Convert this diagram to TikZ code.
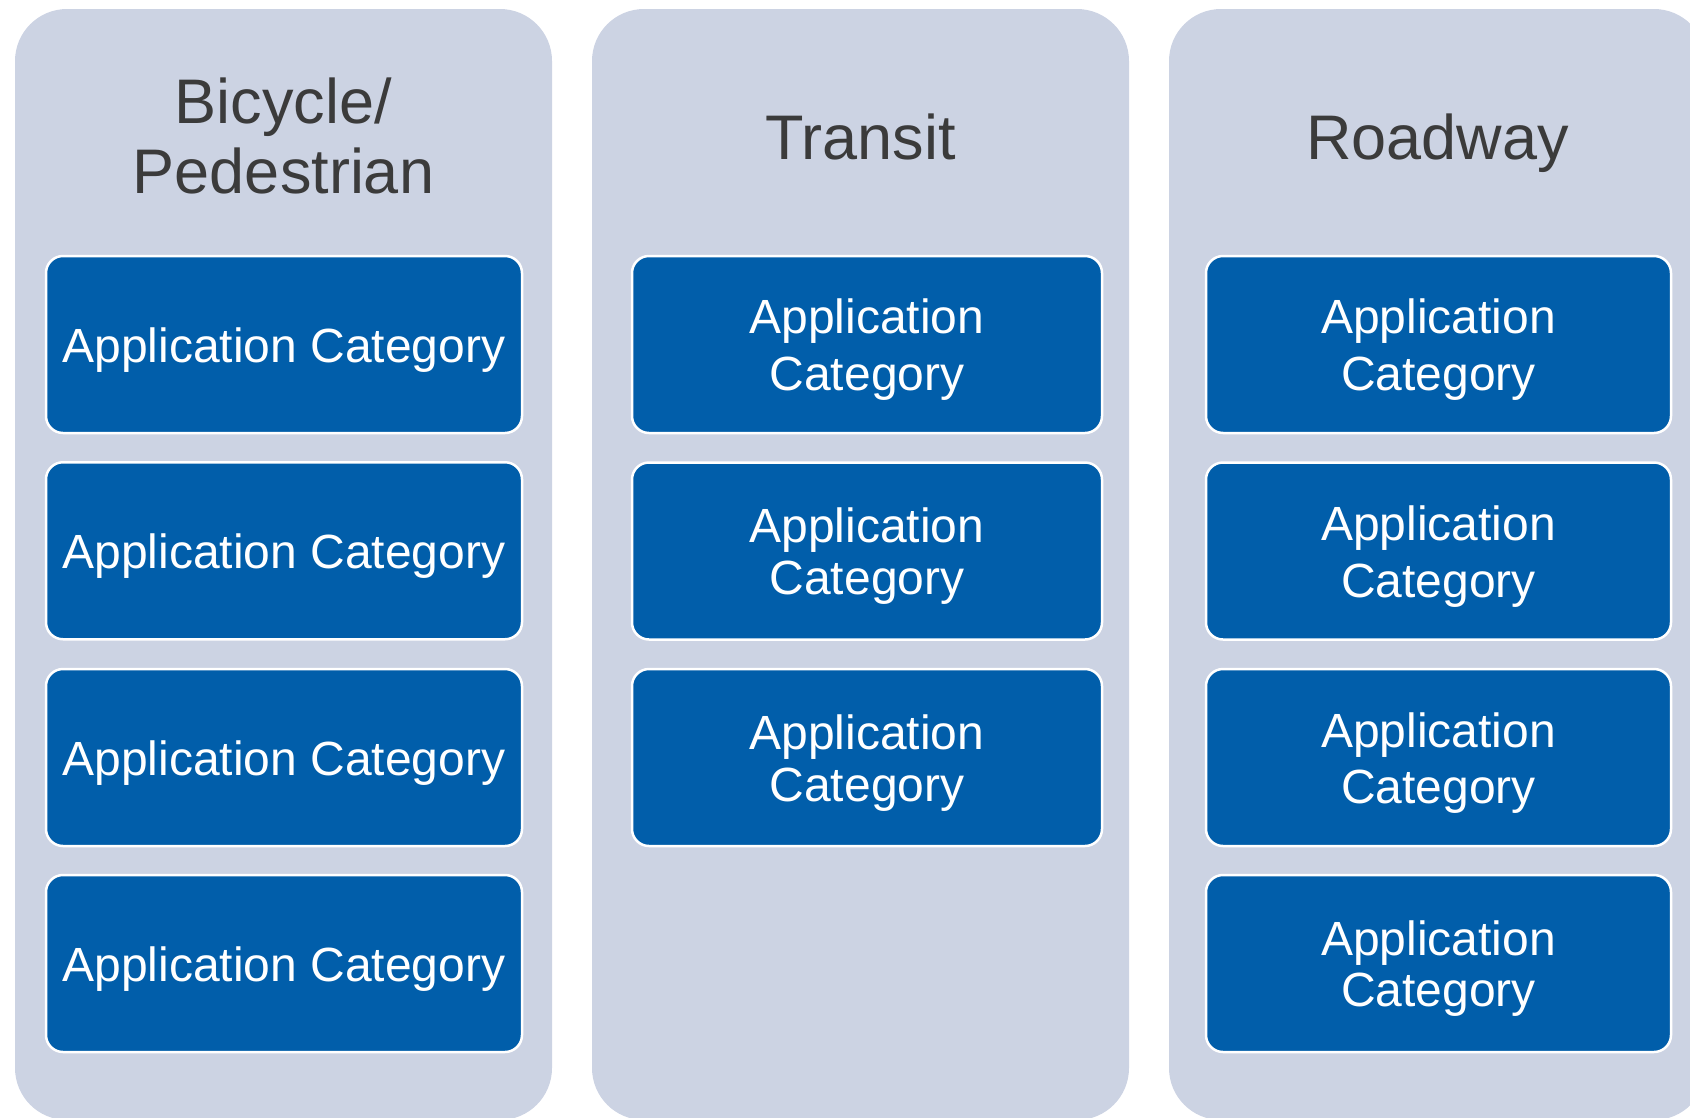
\documentclass[tikz,border=0pt]{standalone}
\usepackage{fontspec}
\setmainfont{Liberation Sans}
\definecolor{colbg}{RGB}{204,211,227}
\definecolor{boxblue}{RGB}{1,94,170}
\definecolor{titlegray}{RGB}{59,59,59}
\tikzset{
  colpanel/.style={fill=colbg, draw=none, rounded corners=52pt},
  catbox/.style={draw=white, line width=2.5pt, fill=boxblue, rounded corners=17pt,
                 inner sep=0pt, minimum height=177pt},
  cattext/.style={text=white, align=center, inner sep=0pt, yshift=-5.5pt,
                  font=\fontsize{48}{#1}\selectfont},
  cattext/.default=57,
  coltitle/.style={text=titlegray, align=center, inner sep=0pt,
                   font=\fontsize{63}{70}\selectfont},
}
\begin{document}
\begin{tikzpicture}[x=1pt,y=-1pt]
\useasboundingbox (0,0) rectangle (1690,1117);
\clip (0,0) rectangle (1690,1117);
% column panels
\path[colpanel] (15,9) rectangle (552,1120);
\path[colpanel] (592,9) rectangle (1129,1120);
\path[colpanel] (1169,9) rectangle (1706,1120);
% titles
\node[coltitle] (h1) at (283.5,135.5) {Bicycle/\\Pedestrian};
\node[coltitle, anchor=base] (h2) at (860.5,159) {Transit};
\node[coltitle, anchor=base] (h3) at (1437.5,159) {Roadway};
% column 1 boxes
\node[catbox, minimum width=476pt] (a1) at (284,344.5) {};
\node[catbox, minimum width=476pt] (a2) at (284,550.75) {};
\node[catbox, minimum width=476pt] (a3) at (284,757.5) {};
\node[catbox, minimum width=476pt] (a4) at (284,963.5) {};
\node[cattext] (ta1) at (a1.center) {Application Category};
\node[cattext] (ta2) at (a2.center) {Application Category};
\node[cattext] (ta3) at (a3.center) {Application Category};
\node[cattext] (ta4) at (a4.center) {Application Category};
% column 2 boxes
\node[catbox, minimum width=470pt] (b1) at (867,344.5) {};
\node[catbox, minimum width=470pt] (b2) at (867,551) {};
\node[catbox, minimum width=470pt] (b3) at (867,757.5) {};
\node[cattext=57] (tb1) at (b1.center) {Application\\Category};
\node[cattext=52] (tb2) at (b2.center) {Application\\Category};
\node[cattext=52] (tb3) at (b3.center) {Application\\Category};
% column 3 boxes
\node[catbox, minimum width=465pt] (c1) at (1438.5,344.5) {};
\node[catbox, minimum width=465pt] (c2) at (1438.5,551) {};
\node[catbox, minimum width=465pt] (c3) at (1438.5,757.5) {};
\node[catbox, minimum width=465pt] (c4) at (1438.5,963.5) {};
\node[cattext=57] (tc1) at (c1.center) {Application\\Category};
\node[cattext=57] (tc2) at (c2.center) {Application\\Category};
\node[cattext=56] (tc3) at (c3.center) {Application\\Category};
\node[cattext=51] (tc4) at (c4.center) {Application\\Category};
\end{tikzpicture}
\end{document}
